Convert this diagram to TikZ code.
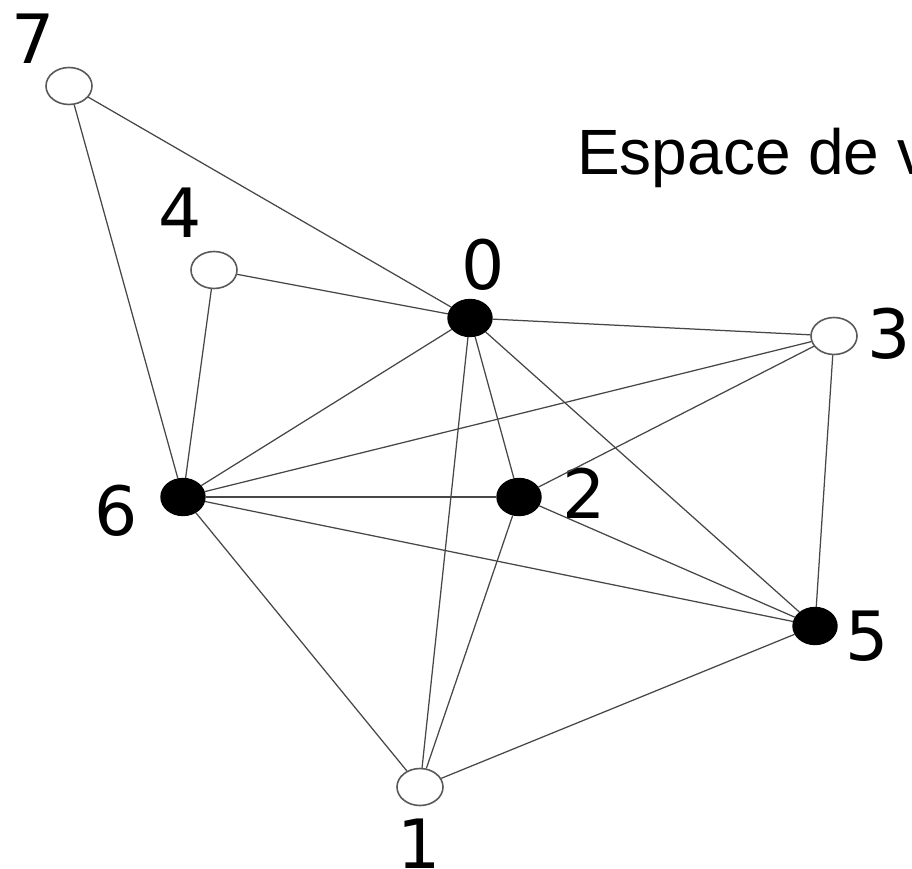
\documentclass[tikz,border=0pt]{standalone}
\usepackage{fontspec}
\setmainfont{DejaVu Sans}
\newfontfamily\arialfont{Liberation Sans}
\usetikzlibrary{shapes.geometric}
\begin{document}
\begin{tikzpicture}[x=1pt,y=-1pt,
  vopen/.style={ellipse,draw=black!65,line width=1.6pt,fill=white,minimum width=46pt,minimum height=37pt,inner sep=0pt},
  vfull/.style={ellipse,draw=black,line width=1.4pt,fill=black,minimum width=44pt,minimum height=37pt,inner sep=0pt},
  lbl/.style={inner sep=0pt,font=\fontsize{68}{68}\selectfont},
  edge/.style={draw=black!72,line width=1.25pt}]
\useasboundingbox (0,0) rectangle (912,869);
\fill[white] (0,0) rectangle (912,869);
% vertices
\node[vopen] (v7) at (69,86) {};
\node[vopen] (v4) at (214,270) {};
\node[vfull] (v0) at (470,318) {};
\node[vopen] (v3) at (834,336) {};
\node[vfull] (v6) at (183,497) {};
\node[vfull] (v2) at (519,497) {};
\node[vfull] (v5) at (815,626) {};
\node[vopen] (v1) at (420,787) {};
% labels
\node[lbl] (l7) at (33,39) {7};
\node[lbl] (l4) at (180,213) {4};
\node[lbl] (l0) at (483,265) {0};
\node[lbl] (l3) at (889,334) {3};
\node[lbl] (l6) at (116,511) {6};
\node[lbl] (l2) at (584,493) {2};
\node[lbl] (l5) at (867,636) {5};
\node[lbl] (l1) at (419,844) {1};
\node[anchor=base west,inner sep=0pt,font=\arialfont\fontsize{64}{64}\selectfont] (title) at (577,175) {Espace de v};
% edges
\path[edge] (v7) -- (v0);
\path[edge] (v7) -- (v6);
\path[edge] (v4) -- (v0);
\path[edge] (v4) -- (v6);
\path[edge] (v0) -- (v3);
\path[edge] (v0) -- (v6);
\path[edge] (v0) -- (v2);
\path[edge] (v0) -- (v1);
\path[edge] (v0) -- (v5);
\path[edge] (v3) -- (v6);
\path[edge] (v3) -- (v2);
\path[edge] (v3) -- (v5);
\path[edge] (v6) -- (v2);
\path[edge] (v6) -- (v5);
\path[edge] (v6) -- (v1);
\path[edge] (v2) -- (v1);
\path[edge] (v2) -- (v5);
\path[edge] (v5) -- (v1);
\end{tikzpicture}
\end{document}
